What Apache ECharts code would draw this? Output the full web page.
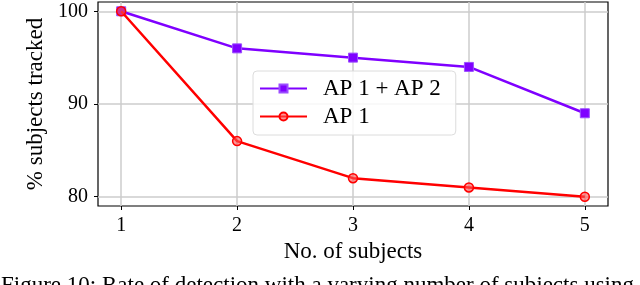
<!DOCTYPE html>
<html><head><meta charset="utf-8">
<script src="https://cdn.jsdelivr.net/npm/echarts@6/dist/echarts.min.js"></script>
<style>html,body{margin:0;padding:0;background:#fff}#c{width:640px;height:285px}</style>
</head><body><div id="c"></div>
<script>
const xValues = [1, 2, 3, 4, 5];
const apBoth = [100, 96, 95, 94, 89];
const apOne = [100, 86, 82, 81, 80];
const xTicks = [1, 2, 3, 4, 5];
const yTicks = [80, 90, 100];
const seriesNames = ['AP 1 + AP 2', 'AP 1'];
const caption = 'Figure 10: Rate of detection with a varying number of subjects using';

const font = '"Liberation Serif", "DejaVu Serif", serif';
const chart = echarts.init(document.getElementById('c'), null, {renderer: 'canvas'});
chart.setOption({
  animation: false,
  grid: {left: 98, right: 32, top: 2, bottom: 79, show: true, borderColor: '#000', borderWidth: 1.2, backgroundColor: 'transparent'},
  legend: {
    left: 253, top: 71, orient: 'vertical',
    itemWidth: 47, itemHeight: 10, itemGap: 5,
    padding: [6, 15, 7, 6],
    borderColor: '#dcdcdc', borderWidth: 1, borderRadius: 4,
    backgroundColor: 'rgba(255,255,255,0.85)',
    textStyle: {fontFamily: font, fontSize: 23, lineHeight: 23, color: '#000', padding: [0, 0, 0, 11]},
    data: seriesNames
  },
  xAxis: {
    type: 'value', min: 0.8, max: 5.2,
    name: 'No. of subjects', nameLocation: 'middle', nameGap: 32,
    nameTextStyle: {fontFamily: font, fontSize: 23, color: '#000'},
    axisLine: {show: false},
    axisTick: {show: true, customValues: xTicks, length: 4, lineStyle: {color: '#000', width: 1}},
    axisLabel: {customValues: xTicks, fontFamily: font, fontSize: 20, color: '#000', margin: 10},
    splitLine: {show: true, lineStyle: {color: '#cccccc', width: 1.5}}
  },
  yAxis: {
    type: 'value', min: 79, max: 101,
    name: '% subjects tracked', nameLocation: 'middle', nameGap: 39, nameRotate: 90,
    nameTextStyle: {fontFamily: font, fontSize: 23, color: '#000'},
    axisLine: {show: false},
    axisTick: {show: true, customValues: yTicks, length: 4, lineStyle: {color: '#000', width: 1}},
    axisLabel: {customValues: yTicks, fontFamily: font, fontSize: 20, color: '#000', margin: 10},
    splitLine: {show: true, lineStyle: {color: '#cccccc', width: 1.5}}
  },
  series: [
    {
      name: seriesNames[0], type: 'line',
      data: xValues.map((x, i) => [x, apBoth[i]]),
      symbol: 'rect', symbolSize: 9,
      lineStyle: {color: '#7f00ff', width: 2.5},
      itemStyle: {color: '#7f00ff', borderColor: '#9b4dff', borderWidth: 1},
      z: 3
    },
    {
      name: seriesNames[1], type: 'line',
      data: xValues.map((x, i) => [x, apOne[i]]),
      symbol: 'circle', symbolSize: 9,
      lineStyle: {color: '#ff0000', width: 2.5},
      itemStyle: {color: 'rgba(255,80,80,0.6)', borderColor: '#ff0000', borderWidth: 1.5},
      z: 4
    }
  ],
  graphic: [{
    type: 'text', left: 1, top: 274,
    style: {text: caption, font: '23px ' + font, fill: '#000'}
  }]
});
</script></body></html>
